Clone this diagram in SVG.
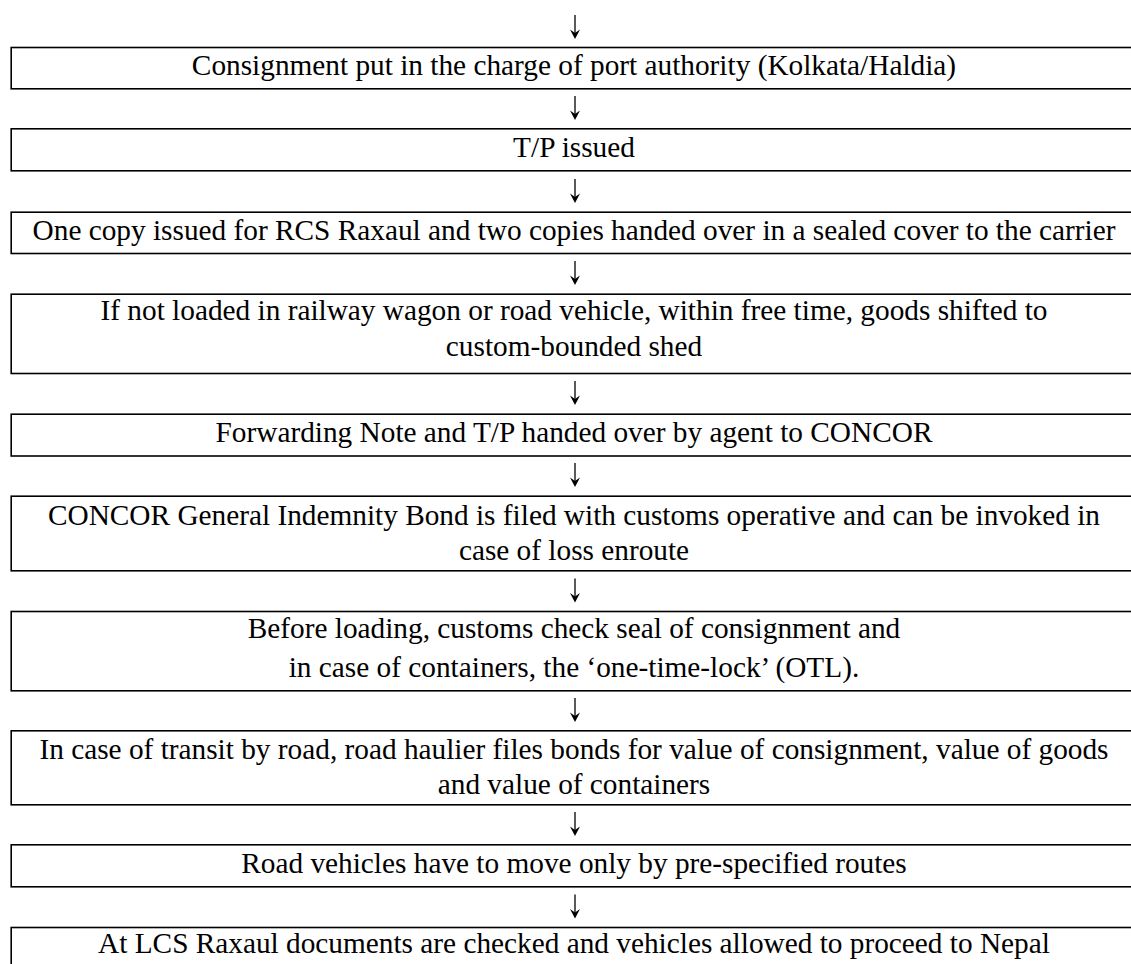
<svg xmlns="http://www.w3.org/2000/svg" width="1131" height="964" viewBox="0 0 1131 964">
<style>
.box{fill:#fff;stroke:#000;stroke-width:1.6}
.t{font-family:"Liberation Serif","Times New Roman",serif;font-size:29.3px;fill:#000;text-anchor:middle}
.ln{stroke:#000;stroke-width:1.3;fill:none}
.hd{fill:#000;stroke:none}
</style>
<defs>
<g id="arr"><line class="ln" x1="0" y1="-24" x2="0" y2="-2"/><path class="hd" d="M-5,-9.5 L0,0 L5,-9.5 L0,-6 Z"/></g>
</defs>
<rect width="1131" height="964" fill="#fff"/>
<g id="connectors">
<use href="#arr" x="575" y="39"/>
<use href="#arr" x="575" y="120"/>
<use href="#arr" x="575" y="203"/>
<use href="#arr" x="575" y="285"/>
<use href="#arr" x="575" y="405"/>
<use href="#arr" x="575" y="487"/>
<use href="#arr" x="575" y="602.5"/>
<use href="#arr" x="575" y="722"/>
<use href="#arr" x="575" y="836"/>
<use href="#arr" x="575" y="918.5"/>
</g>
<g id="n1"><rect class="box" x="11.2" y="47.5" width="1130" height="41.3"/><text class="t" x="574" y="75">Consignment put in the charge of port authority (Kolkata/Haldia)</text></g>
<g id="n2"><rect class="box" x="11.2" y="128.8" width="1130" height="42"/><text class="t" x="574" y="156.5">T/P issued</text></g>
<g id="n3"><rect class="box" x="11.2" y="212.2" width="1130" height="41.3"/><text class="t" x="574" y="240">One copy issued for RCS Raxaul and two copies handed over in a sealed cover to the carrier</text></g>
<g id="n4"><rect class="box" x="11.2" y="294.2" width="1130" height="79.3"/><text class="t" x="574" y="320">If not loaded in railway wagon or road vehicle, within free time, goods shifted to</text><text class="t" x="574" y="356">custom-bounded shed</text></g>
<g id="n5"><rect class="box" x="11.2" y="414.2" width="1130" height="41.8"/><text class="t" x="574" y="442">Forwarding Note and T/P handed over by agent to CONCOR</text></g>
<g id="n6"><rect class="box" x="11.2" y="496.2" width="1130" height="74.6"/><text class="t" x="574" y="525">CONCOR General Indemnity Bond is filed with customs operative and can be invoked in</text><text class="t" x="574" y="560">case of loss enroute</text></g>
<g id="n7"><rect class="box" x="11.2" y="611.5" width="1130" height="79.3"/><text class="t" x="574" y="638">Before loading, customs check seal of consignment and</text><text class="t" x="574" y="677">in case of containers, the ‘one-time-lock’ (OTL).</text></g>
<g id="n8"><rect class="box" x="11.2" y="730.8" width="1130" height="74"/><text class="t" x="574" y="759">In case of transit by road, road haulier files bonds for value of consignment, value of goods</text><text class="t" x="574" y="794">and value of containers</text></g>
<g id="n9"><rect class="box" x="11.2" y="844.8" width="1130" height="42"/><text class="t" x="574" y="872.5">Road vehicles have to move only by pre-specified routes</text></g>
<g id="n10"><rect class="box" x="11.2" y="927.5" width="1130" height="80"/><text class="t" x="574" y="953">At LCS Raxaul documents are checked and vehicles allowed to proceed to Nepal</text></g>
</svg>
